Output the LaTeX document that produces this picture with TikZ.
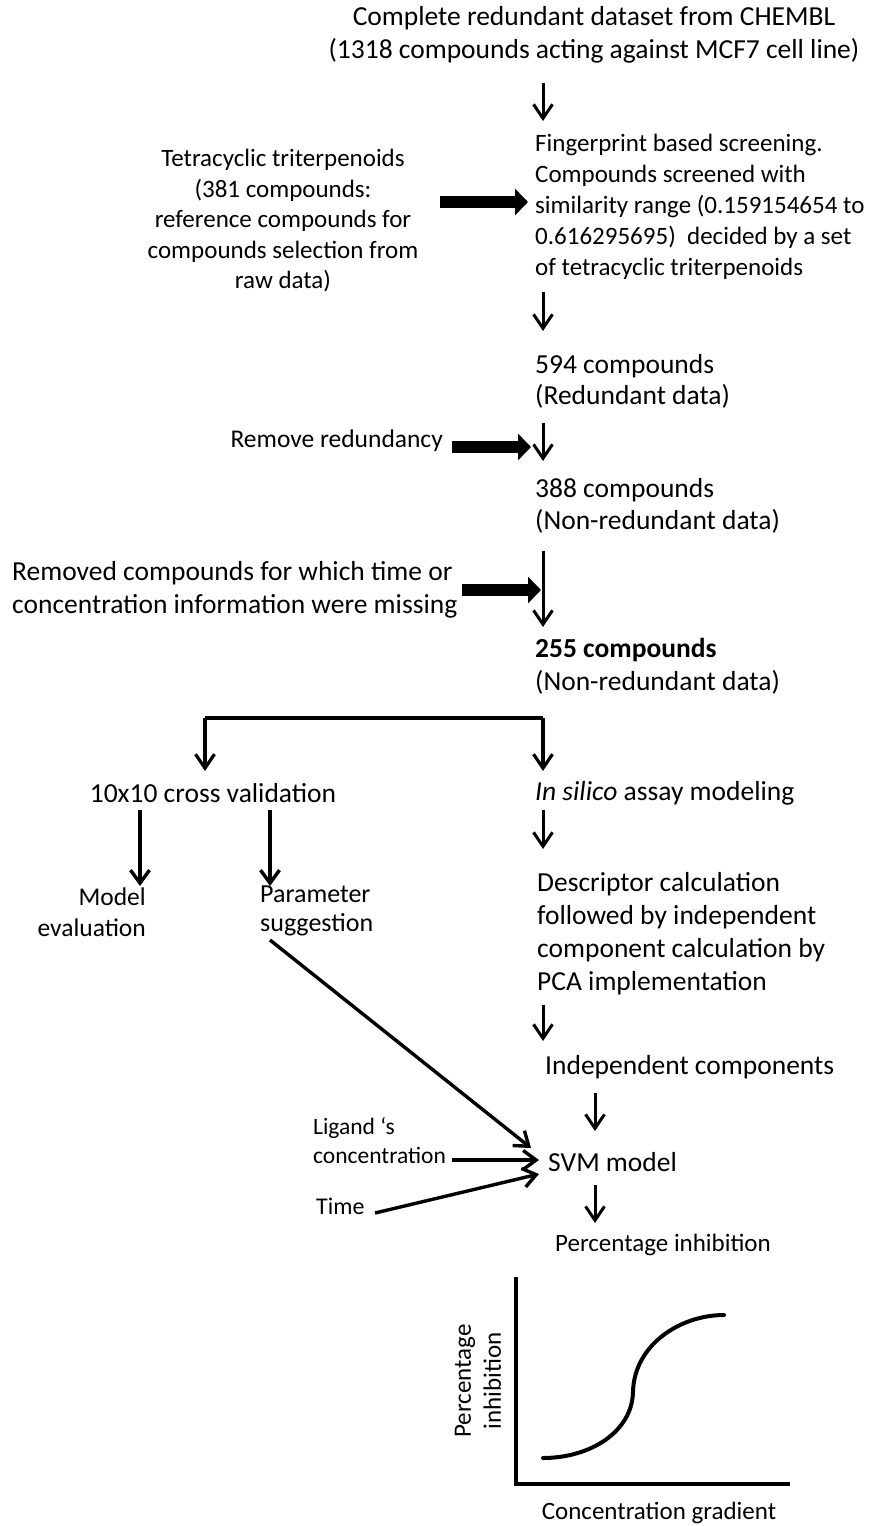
\documentclass[tikz,border=0pt]{standalone}
\usepackage{fontspec}
\setmainfont{Carlito}
\usetikzlibrary{arrows.meta}
\begin{document}
\begin{tikzpicture}[x=1pt,y=-1pt,
  txt/.style={inner sep=0pt,font=\fontsize{27.5}{33}\selectfont},
  thinarrow/.style={line width=3pt,-{Straight Barb[length=14pt,width=19pt]}},
  midarrow/.style={line width=3.4pt,-{Straight Barb[length=13pt,width=19pt]}},
  blockarrow/.style={line width=12pt,-{Triangle[length=13pt,width=26pt]}},
  axis/.style={line width=4pt},
  curve/.style={line width=4pt,line cap=round}]
\useasboundingbox (0,0) rectangle (869,1526);
\fill[white] (0,0) rectangle (869,1526);

% texts
\node[txt,align=center] (top) at (594,34.5) {Complete redundant dataset from CHEMBL\\(1318 compounds acting against MCF7 cell line)};
\node[txt,align=center,font=\fontsize{25}{30.5}\selectfont] (tetra) at (283,221) {Tetracyclic triterpenoids\\(381 compounds:\\reference compounds for\\compounds selection from\\raw data)};
\node[txt,align=left,anchor=west,font=\fontsize{25}{31}\selectfont] (finger) at (535,207) {Fingerprint based screening.\\Compounds screened with\\similarity range (0.159154654 to\\0.616295695)\ \ decided by a set\\of tetracyclic triterpenoids};
\node[txt,align=left,anchor=west,font=\fontsize{27.5}{31}\selectfont] (c594) at (535,381.5) {594 compounds\\(Redundant data)};
\node[txt,anchor=east,font=\fontsize{25.5}{31}\selectfont] (remred) at (443,441) {Remove redundancy};
\node[txt,align=left,anchor=west,font=\fontsize{27.5}{32}\selectfont] (c388) at (535,506) {388 compounds\\(Non-redundant data)};
\node[txt,align=left,anchor=west] (removed) at (12,589.5) {Removed compounds for which time or\\concentration information were missing};
\node[txt,align=left,anchor=west] (c255) at (535,666.5) {\textbf{255 compounds}\\(Non-redundant data)};
\node[txt] (cv) at (213,793) {10x10 cross validation};
\node[txt,anchor=west] (insilico) at (535,793) {\textit{In silico} assay modeling};
\node[txt,align=right,anchor=east,font=\fontsize{25.5}{31}\selectfont] (modeval) at (146,912.5) {Model\\evaluation};
\node[txt,align=left,anchor=west,font=\fontsize{26}{29}\selectfont] (param) at (260,910.5) {Parameter\\suggestion};
\node[txt,align=left,anchor=west] (descr) at (537,933.5) {Descriptor calculation\\followed by independent\\component calculation by\\PCA implementation};
\node[txt,anchor=west] (indep) at (545,1067) {Independent components};
\node[txt,anchor=west] (svm) at (548,1162) {SVM model};
\node[txt,align=left,anchor=west,font=\fontsize{23.5}{29}\selectfont] (ligand) at (313,1140.5) {Ligand ‘s\\concentration};
\node[txt,anchor=west,font=\fontsize{24}{29}\selectfont] (time) at (316,1206) {Time};
\node[txt,font=\fontsize{25}{30}\selectfont] (pctinh) at (663,1245) {Percentage inhibition};
\node[txt,align=center,rotate=90,font=\fontsize{25}{30}\selectfont] (ylab) at (478,1381) {Percentage\\inhibition};
\node[txt,font=\fontsize{25}{30}\selectfont] (xlab) at (659,1513) {Concentration gradient};

% coordinates
\coordinate (a1s) at (543,83);  \coordinate (a1e) at (543,121);
\coordinate (b1s) at (440,202); \coordinate (b1e) at (528,202);
\coordinate (a2s) at (543,292); \coordinate (a2e) at (543,331);
\coordinate (a3s) at (543,423); \coordinate (a3e) at (543,461);
\coordinate (b2s) at (452,447); \coordinate (b2e) at (531,447);
\coordinate (a4s) at (543,551); \coordinate (a4e) at (543,627);
\coordinate (b3s) at (462,590); \coordinate (b3e) at (541,590);
\coordinate (brR) at (543,718); \coordinate (brL) at (205,718);
\coordinate (brRe) at (543,771); \coordinate (brLe) at (205,771);
\coordinate (cv1s) at (140,810); \coordinate (cv1e) at (140,886);
\coordinate (cv2s) at (270,810); \coordinate (cv2e) at (270,886);
\coordinate (is1s) at (543,810); \coordinate (is1e) at (543,849);
\coordinate (ds1s) at (543,1005); \coordinate (ds1e) at (543,1041);
\coordinate (ic1s) at (595,1093); \coordinate (ic1e) at (595,1131);
\coordinate (dgs) at (270,940); \coordinate (dge) at (531,1148);
\coordinate (lgs) at (452,1160); \coordinate (lge) at (539,1160);
\coordinate (tms) at (375,1213); \coordinate (tme) at (539,1174);
\coordinate (sv1s) at (595,1185); \coordinate (sv1e) at (595,1223);
\coordinate (axt) at (516,1277); \coordinate (axo) at (516,1484); \coordinate (axr) at (790,1484);

% arrows
\draw[thinarrow] (a1s) -- (a1e);
\draw[blockarrow] (b1s) -- (b1e);
\draw[thinarrow] (a2s) -- (a2e);
\draw[thinarrow] (a3s) -- (a3e);
\draw[blockarrow] (b2s) -- (b2e);
\draw[thinarrow] (a4s) -- (a4e);
\draw[blockarrow] (b3s) -- (b3e);
\draw[line width=3.2pt] (brL) -- (brR);
\draw[thinarrow,line width=3.2pt] (brR) -- (brRe);
\draw[thinarrow,line width=3.2pt] (brL) -- (brLe);
\draw[midarrow] (cv1s) -- (cv1e);
\draw[midarrow] (cv2s) -- (cv2e);
\draw[thinarrow] (is1s) -- (is1e);
\draw[thinarrow] (ds1s) -- (ds1e);
\draw[thinarrow] (ic1s) -- (ic1e);
\draw[midarrow] (dgs) -- (dge);
\draw[midarrow] (lgs) -- (lge);
\draw[midarrow] (tms) -- (tme);
\draw[thinarrow] (sv1s) -- (sv1e);

% plot
\draw[axis] (axt) -- (axo) -- (axr);
\draw[curve] (543,1458) .. controls (590,1458) and (632,1432) .. (633,1392) .. controls (634,1345) and (680,1315) .. (724,1315);
\end{tikzpicture}
\end{document}
